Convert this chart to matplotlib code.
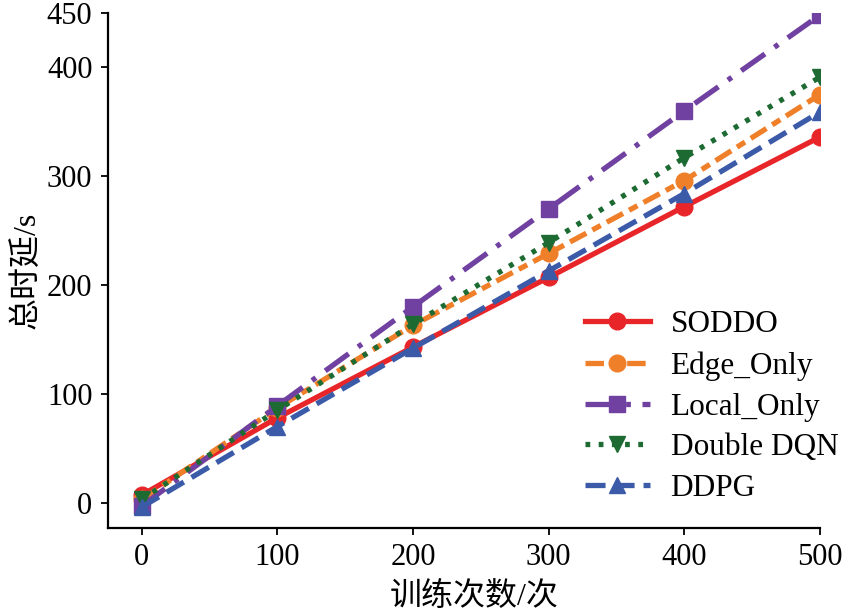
import matplotlib
matplotlib.use("Agg")
import matplotlib.pyplot as plt

plt.rcParams['font.family'] = ['Liberation Serif', 'Noto Sans CJK SC']
plt.rcParams['mathtext.fontset'] = 'stix'

# training counts
episodes = [0, 100, 200, 300, 400, 500]

# total delay (s) per method
soddo = [7, 78, 143, 207, 272, 336]
edge_only = [3, 87, 163, 229, 296, 375]
local_only = [-3, 89, 180, 270, 360, 448]
double_dqn = [3, 85, 164, 239, 317, 391]
ddpg = [-4, 70, 142, 213, 284, 359]

names = ['SODDO', 'Edge_Only', 'Local_Only', 'Double DQN', 'DDPG']
x_ticks = [0, 100, 200, 300, 400, 500]
y_ticks = [0, 100, 200, 300, 400, 450]

series = [soddo, edge_only, local_only, double_dqn, ddpg]
colors = ['#e8262a', '#f07f2a', '#7041a0', '#1d6b33', '#3b5ba9']
styles = ['-', (0, (3.5, 1.3, 1.8, 1.3)), (0, (5.5, 2.2, 0.9, 2.2)), (0, (0.9, 1.6)), (0, (3.8, 1.7))]
markers = ['o', 'o', 's', 'v', '^']

fig = plt.figure(figsize=(8.48, 6.13), dpi=100)
ax = fig.add_axes([0.127, 0.139, 0.840, 0.840])

for vals, name, c, ls, m in zip(series, names, colors, styles, markers):
    ax.plot(episodes, vals, color=c, linestyle=ls, linewidth=3.8, marker=m,
            markersize=12, label=name)

ax.set_xlim(-25, 500)
ax.set_ylim(-23, 450)
ax.set_xticks(x_ticks)
ax.set_yticks(y_ticks)
ax.tick_params(direction='out', length=5, width=1.3, labelsize=22, pad=6)
for side in ['top', 'right']:
    ax.spines[side].set_visible(False)
for side in ['left', 'bottom']:
    ax.spines[side].set_linewidth(1.6)

ax.set_xlabel('训练次数/次', fontsize=23)
ax.set_ylabel('总时延/s', fontsize=23, labelpad=4)
ax.xaxis.set_label_coords(0.515, -0.105)

ax.legend(loc='center left', bbox_to_anchor=(0.652, 0.235), frameon=False,
          fontsize=22.5, labelspacing=0.38, handlelength=2.1, handletextpad=0.65,
          borderaxespad=0)

fig.savefig('out.png', dpi=100)
